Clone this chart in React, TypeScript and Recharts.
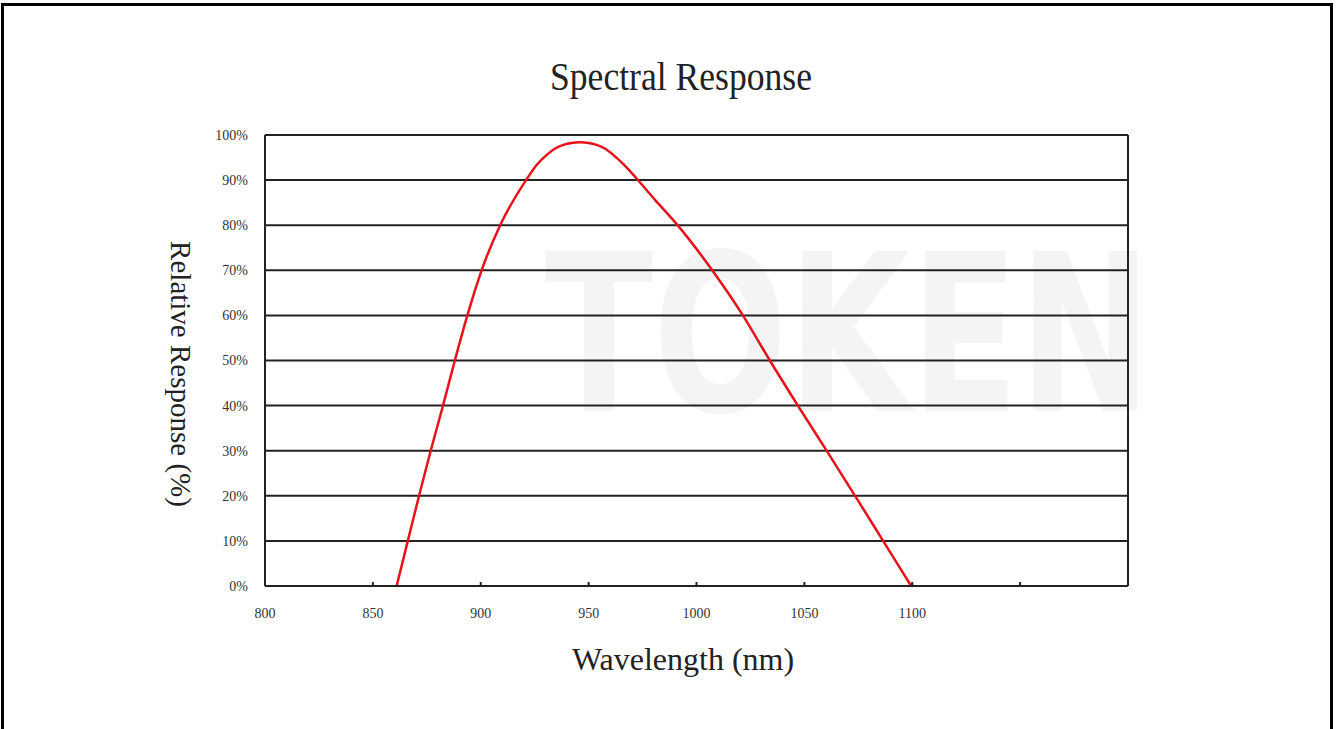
import { LineChart, Line, XAxis, YAxis, CartesianGrid, ReferenceLine } from "recharts";

// wavelength (nm) and relative response (%)
const wavelengths = [861, 866.2, 871.4, 876.8, 882.5, 888, 893.8, 900.4, 909, 921, 926, 930.6, 934.5, 938.3, 942, 946, 950, 953.7, 957.5, 961.4, 967, 972.3, 981, 991.6, 1007.3, 1021.5, 1034, 1047, 1060.3, 1073.5, 1086.5, 1099.5];
const response = [0, 10, 20, 30, 40, 50, 60, 70, 80, 90, 93.4, 95.6, 97.0, 97.8, 98.25, 98.4, 98.25, 97.8, 97.0, 95.6, 93.1, 90.3, 85.5, 79.8, 70, 60, 50, 40, 30, 20, 10, 0];

const xTicks = [800, 850, 900, 950, 1000, 1050, 1100, 1150, 1200];
const xTickLabels = ["800", "850", "900", "950", "1000", "1050", "1100", "", ""];
const yTicks = [0, 10, 20, 30, 40, 50, 60, 70, 80, 90, 100];

const data = wavelengths.map((w, i) => ({ nm: w, value: response[i] }));

const SERIF = '"Liberation Serif", "DejaVu Serif", serif';
const TICK_MARGIN = 22;

function XTick({ x, y, payload }: { x?: number; y?: number; payload?: { value: number } }) {
  const v = payload?.value ?? 0;
  const idx = xTicks.indexOf(v);
  const axisY = (y ?? 0) - TICK_MARGIN;
  const showMark = v > 800 && v < 1200;
  return (
    <g>
      {showMark && <line x1={x} x2={x} y1={axisY} y2={axisY - 4} stroke="#222" strokeWidth={2} />}
      <text x={x} y={y} dy="0.71em" textAnchor="middle" fill="#333" fontSize={14} fontFamily={SERIF}>
        {idx >= 0 ? xTickLabels[idx] : ""}
      </text>
    </g>
  );
}

export default function App() {
  return (
    <div style={{ position: "absolute", left: 0, top: 0, width: 1337, height: 729, background: "#fff", overflow: "hidden" }}>
      {/* outer frame */}
      <div style={{ position: "absolute", left: 1, top: 3, width: 1326, height: 740, border: "3px solid #000" }} />
      {/* faint watermark */}
      <div
        style={{
          position: "absolute",
          left: 545,
          top: 225,
          width: 780,
          fontFamily: '"DejaVu Sans", sans-serif',
          fontWeight: 700,
          fontSize: 220,
          color: "#f4f4f4",
          lineHeight: 1,
          transform: "scaleX(0.72)",
          transformOrigin: "left top",
        }}
      >
        TOKEN
      </div>
      <div
        style={{
          position: "absolute",
          left: 0,
          width: 1362,
          top: 53,
          textAlign: "center",
          fontFamily: SERIF,
          fontSize: 40,
          color: "#222",
          transform: "scaleX(0.89)",
        }}
      >
        Spectral Response
      </div>
      <div
        style={{
          position: "absolute",
          left: 0,
          width: 1366,
          top: 641,
          textAlign: "center",
          fontFamily: SERIF,
          fontSize: 32,
          color: "#222",
        }}
      >
        Wavelength (nm)
      </div>
      <div
        style={{
          position: "absolute",
          left: 180,
          top: 374,
          transform: "translate(-50%, -50%) rotate(90deg)",
          whiteSpace: "nowrap",
          fontFamily: SERIF,
          fontSize: 29,
          color: "#222",
        }}
      >
        Relative Response (%)
      </div>
      <div style={{ position: "absolute", left: 0, top: 0 }}>
        <LineChart width={1337} height={729} data={data} margin={{ top: 135, right: 209, left: 205, bottom: 113 }}>
          <CartesianGrid vertical={false} stroke="#222" strokeWidth={2} />
          <XAxis
            dataKey="nm"
            type="number"
            domain={[800, 1200]}
            ticks={xTicks}
            interval={0}
            height={30}
            tickSize={0}
            tickMargin={TICK_MARGIN}
            tickLine={false}
            axisLine={{ stroke: "#222", strokeWidth: 2 }}
            tick={<XTick />}
          />
          <YAxis
            type="number"
            domain={[0, 100]}
            ticks={yTicks}
            interval={0}
            width={60}
            tickSize={0}
            tickMargin={17}
            tickLine={false}
            axisLine={{ stroke: "#222", strokeWidth: 2 }}
            tickFormatter={(v: number) => `${v}%`}
            tick={{ fill: "#333", fontSize: 14, fontFamily: SERIF }}
          />
          <ReferenceLine x={1200} stroke="#222" strokeWidth={2} />
          <Line
            dataKey="value"
            type="monotone"
            stroke="#e8121a"
            strokeWidth={2.5}
            dot={false}
            isAnimationActive={false}
          />
        </LineChart>
      </div>
    </div>
  );
}
